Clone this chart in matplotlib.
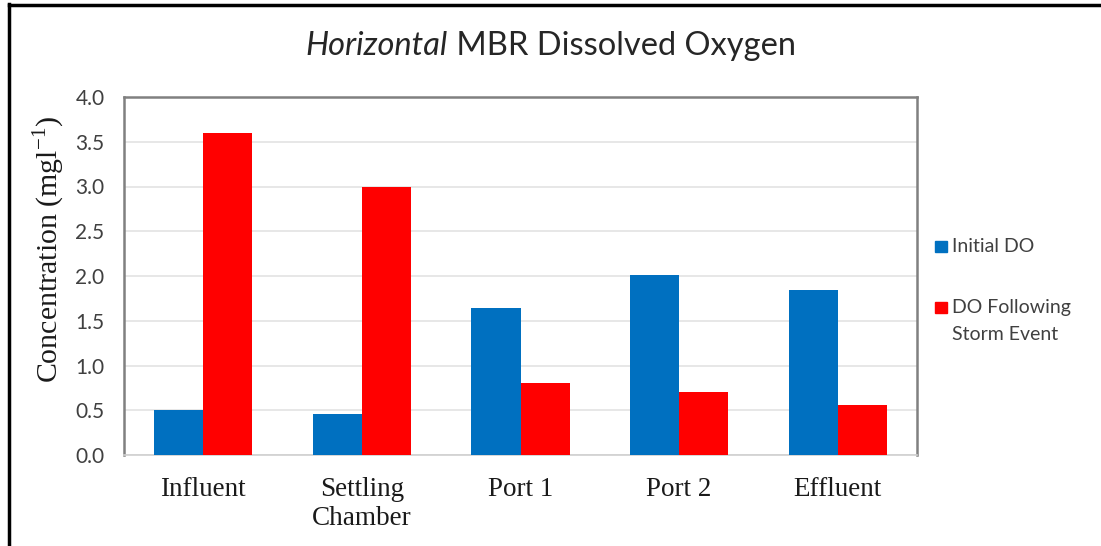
import matplotlib
matplotlib.use("Agg")
import matplotlib.pyplot as plt
import numpy as np
from matplotlib.lines import Line2D
from matplotlib.patches import Rectangle

categories = ["Influent", "Settling\nChamber", "Port 1", "Port 2", "Effluent"]
initial_do = [0.50, 0.46, 1.64, 2.01, 1.84]
storm_do = [3.60, 3.00, 0.81, 0.70, 0.56]
series_labels = ["Initial DO", "DO Following\nStorm Event"]
series_colors = ["#0070C0", "#FF0000"]
yticks = [0.0, 0.5, 1.0, 1.5, 2.0, 2.5, 3.0, 3.5, 4.0]

plt.rcParams["mathtext.fontset"] = "custom"
plt.rcParams["mathtext.rm"] = "Liberation Serif"

fig = plt.figure(figsize=(11.01, 5.46), dpi=100)
ax = fig.add_axes([124/1101, 1-455/546, (917-124)/1101, (455-97)/546])

x = np.arange(len(categories))
w = 0.31
ax.bar(x - w/2, initial_do, w, color=series_colors[0], label=series_labels[0], zorder=3)
ax.bar(x + w/2, storm_do, w, color=series_colors[1], label=series_labels[1], zorder=3)

ax.set_xlim(-0.5, len(categories) - 0.5)
ax.set_ylim(0, 4.0)
ax.set_yticks(yticks)
ax.set_yticklabels([f"{v:.1f}" for v in yticks], family="Lato", fontsize=15, color="#404040")
ax.set_xticks(x)
ax.set_xticklabels(categories, family="Liberation Serif", fontsize=19.5, color="#1a1a1a", linespacing=1.22)
ax.tick_params(axis="y", length=0, pad=14)
ax.tick_params(axis="x", length=0, pad=16)
ax.grid(axis="y", color="#e3e3e3", linewidth=1.2, zorder=0)

for s in ["left", "top", "right"]:
    ax.spines[s].set_color("#808080")
    ax.spines[s].set_linewidth(1.8)
ax.spines["bottom"].set_color("#d0d0d0")
ax.spines["bottom"].set_linewidth(1.2)

ax.set_ylabel("Concentration (mgl$^{\\mathregular{-1}}$)", family="Liberation Serif", fontsize=21.5,
              color="#1a1a1a")
ax.yaxis.set_label_coords((67-124)/793, (455-249)/358)

fig.canvas.draw()
r = fig.canvas.get_renderer()
ty = 1 - 46/546
ta = fig.text(0, ty, "Horizontal", family="Lato", style="italic", fontsize=23.5, va="center", ha="left", color="#262626")
tb = fig.text(0, ty, " MBR Dissolved Oxygen", family="Lato", fontsize=23.5, va="center", ha="left", color="#262626")
wa = ta.get_window_extent(r).width
wb = tb.get_window_extent(r).width
x0 = 551 - (wa + wb)/2
ta.set_x(x0/1101)
tb.set_x((x0 + wa)/1101)

# legend (manual, marker aligned with first text line as in the reference)
leg_base = [252, 313]
for lab, col, yy in zip(series_labels, series_colors, leg_base):
    fig.add_artist(Rectangle((935/1101, 1-(yy)/546), 12/1101, 11/546,
                             transform=fig.transFigure, color=col))
    lines = lab.split("\n")
    for k, line in enumerate(lines):
        fig.text(952/1101, 1-(yy+27*k)/546, line, family="Lato", fontsize=14, color="#404040",
                 va="baseline", ha="left")

fig.add_artist(Line2D([8.5/1101, 8.5/1101], [0, 1-4/546], color="black", linewidth=2.5))
fig.add_artist(Line2D([8.5/1101, 1], [1-4.5/546, 1-4.5/546], color="black", linewidth=2.5))

fig.savefig("out.png", dpi=100)
